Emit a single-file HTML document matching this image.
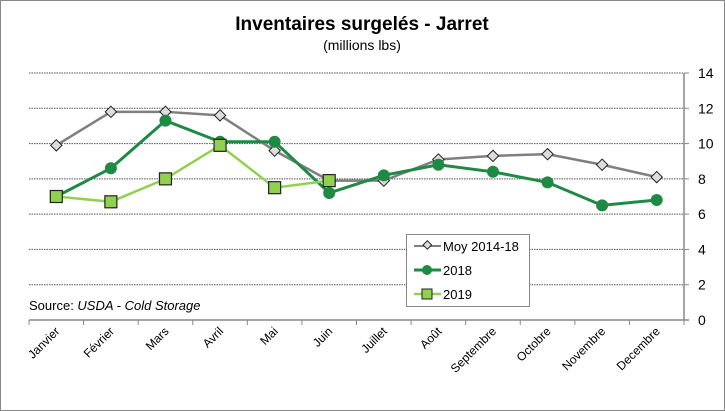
<!DOCTYPE html>
<html><head><meta charset="utf-8"><style>
body{margin:0;background:#fff;}
svg{display:block;font-family:"Liberation Sans",Arial,sans-serif;}
</style></head><body>
<svg id="chart" width="725" height="411">
<rect x="0.5" y="0.5" width="724" height="410" fill="#fff" stroke="#888"/>
<text x="362" y="30" text-anchor="middle" font-size="19" font-weight="bold">Inventaires surgelés - Jarret</text>
<text x="362" y="50" text-anchor="middle" font-size="14">(millions lbs)</text>
<text x="29" y="310" font-size="13">Source: <tspan font-style="italic">USDA - Cold Storage</tspan></text>
<g id="grid"></g><g id="axes"></g><g id="series"></g>
<g>
<rect x="406.5" y="234.5" width="123" height="72" fill="#fff" stroke="#888"/>
<line x1="414" y1="246" x2="441" y2="246" stroke="#7f7f7f" stroke-width="2"/>
<rect x="423.5" y="242" width="6" height="6" transform="rotate(45 427 246)" fill="#ddd" stroke="#222"/>
<text x="443" y="251" font-size="13">Moy 2014-18</text>
<line x1="414" y1="270" x2="441" y2="270" stroke="#1e8a44" stroke-width="3"/>
<circle cx="427" cy="270" r="5" fill="#1e8a44"/>
<text x="443" y="275" font-size="13">2018</text>
<line x1="414" y1="294" x2="441" y2="294" stroke="#92d050" stroke-width="2.5"/>
<rect x="422" y="289" width="10" height="10" fill="#92d050" stroke="#222"/>
<text x="443" y="299" font-size="13">2019</text>
</g>
</svg>
<script>
const categories=["Janvier","Février","Mars","Avril","Mai","Juin","Juillet","Août","Septembre","Octobre","Novembre","Decembre"];
const moy=[9.9,11.8,11.8,11.6,9.6,7.9,7.9,9.1,9.3,9.4,8.8,8.1];
const s2018=[7.0,8.6,11.3,10.1,10.1,7.2,8.2,8.8,8.4,7.8,6.5,6.8];
const s2019=[7.0,6.7,8.0,9.9,7.5,7.9];
const yTicks=[0,2,4,6,8,10,12,14];
const NS="http://www.w3.org/2000/svg";
const L=29,R=684,T=73,B=320,ymax=14;
const bw=(R-L)/categories.length;
const x=i=>L+bw*(i+0.5);
const y=v=>B-(v/ymax)*(B-T);
function mk(tag,attrs,parent){const e=document.createElementNS(NS,tag);for(const k in attrs)e.setAttribute(k,attrs[k]);document.getElementById(parent).appendChild(e);return e;}
yTicks.forEach(t=>{
  if(t>0){const g=mk('line',{x1:L,x2:R,y1:y(t),y2:y(t),stroke:'#555','stroke-dasharray':'1.5 1','stroke-width':1},'grid');
  
  }
  const tk=mk('line',{x1:R,x2:R+5,y1:y(t),y2:y(t),stroke:'#888'},'axes');
  const lb=mk('text',{x:R+14,y:y(t)+5,'font-size':14},'axes');lb.textContent=t;
  
  
});
mk('line',{x1:R,x2:R,y1:T,y2:B,stroke:'#888','stroke-width':1.5},'axes');
mk('line',{x1:L,x2:R+5,y1:B,y2:B,stroke:'#888','stroke-width':1.5},'axes');
categories.forEach((c,i)=>{
  mk('line',{x1:L+bw*i,x2:L+bw*i,y1:B,y2:B+5,stroke:'#888'},'axes');
  const t=mk('text',{x:x(i)+4,y:B+12,'font-size':12,'text-anchor':'end',transform:`rotate(-45 ${x(i)+4} ${B+12})`},'axes');
  t.textContent=c;
  
  
});
mk('line',{x1:R,x2:R,y1:B,y2:B+5,stroke:'#888'},'axes');
function line(vals,color,w,name){
  const p=mk('polyline',{points:vals.map((v,i)=>x(i)+','+y(v)).join(' '),fill:'none',stroke:color,'stroke-width':w},'series');
  
  
}
line(moy,'#7f7f7f',2.5,'line-moy');
moy.forEach((v,i)=>{const m=mk('rect',{x:x(i)-4,y:y(v)-4,width:8,height:8,fill:'#ddd',stroke:'#222',transform:`rotate(45 ${x(i)} ${y(v)})`},'series');

});
line(s2018,'#1e8a44',3,'line-2018');
s2018.forEach((v,i)=>{const m=mk('circle',{cx:x(i),cy:y(v),r:6,fill:'#1e8a44'},'series');

});
line(s2019,'#92d050',2.5,'line-2019');
s2019.forEach((v,i)=>{const m=mk('rect',{x:x(i)-6,y:y(v)-6,width:12,height:12,fill:'#92d050',stroke:'#222','stroke-width':1.2},'series');

});
</script>
</body></html>
